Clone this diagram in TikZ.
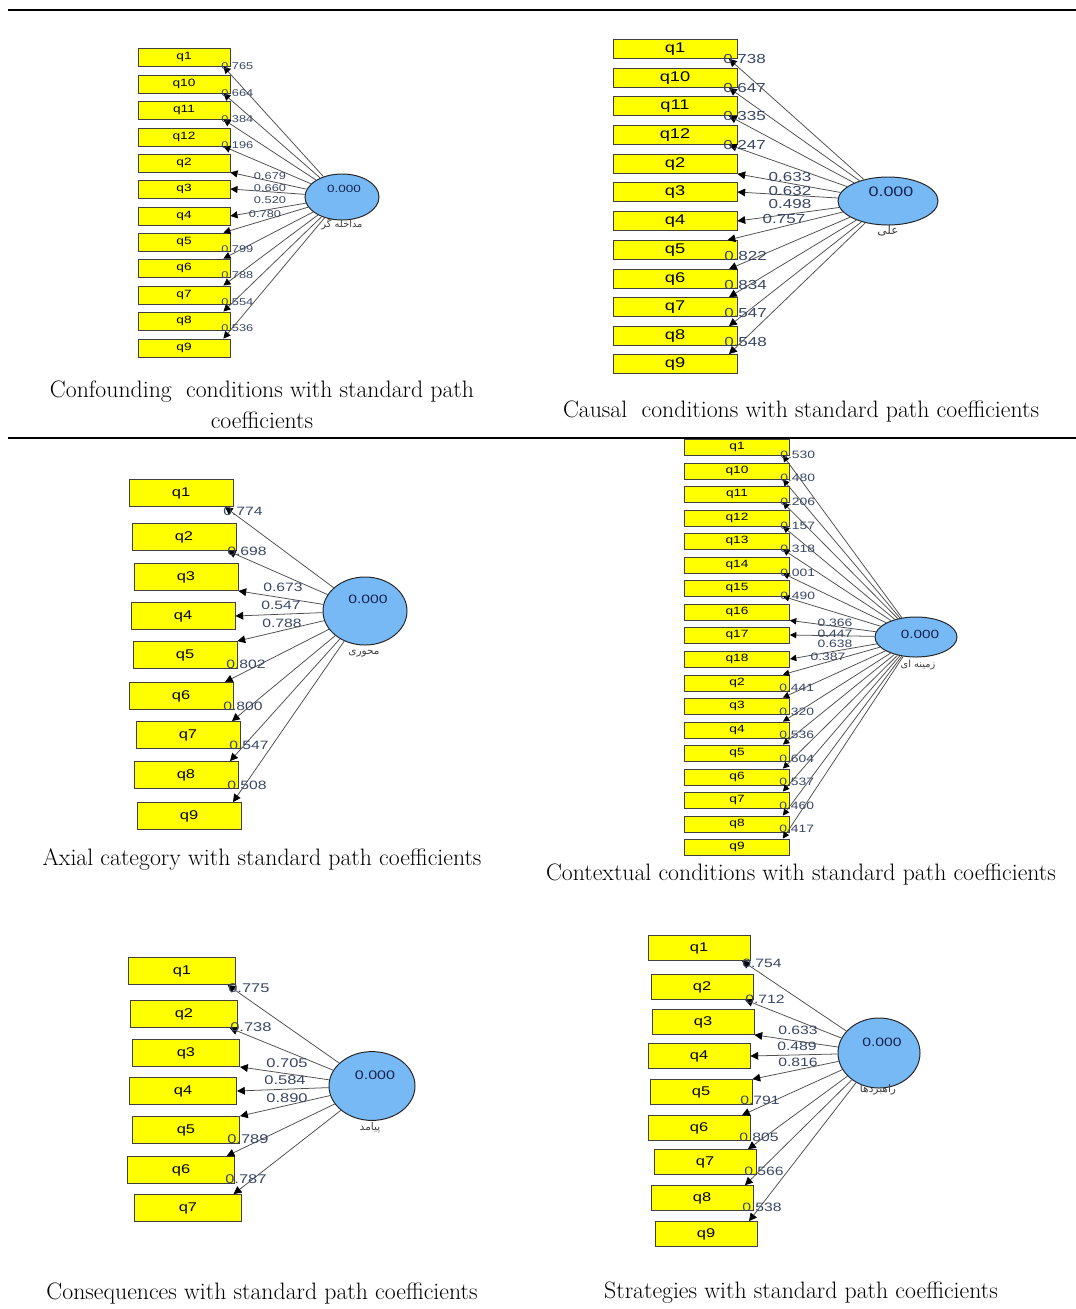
\documentclass[tikz,border=0pt]{standalone}
\usepackage{fontspec}
\usepackage{xcolor}
\usetikzlibrary{arrows.meta,shapes.geometric}

\newfontfamily\qfont[FakeStretch=1.3]{Liberation Sans}
\newfontfamily\fafont[Script=Arabic]{DejaVu Sans}
\TeXXeTstate=1

\definecolor{itemyellow}{RGB}{255,255,0}
\definecolor{lvblue}{RGB}{118,185,245}
\definecolor{coefblue}{RGB}{55,70,100}
\definecolor{lvtext}{RGB}{25,35,80}
\definecolor{edgegray}{RGB}{80,80,80}

\begin{document}
\begin{tikzpicture}[
  x=0.025cm, y=-0.025cm,
  item/.style={draw=black!75, fill=itemyellow, line width=0.6pt, inner sep=0pt},
  latent/.style={ellipse, draw=black!85, fill=lvblue, line width=0.7pt, inner sep=0pt},
  value/.style={text=lvtext, inner sep=0pt},
  coef/.style={text=coefblue, inner sep=0pt},
  fa/.style={font=\fafont\fontsize{7.5}{8}\selectfont, text=black!75, inner sep=0pt},
  load/.style={draw=edgegray, line width=0.55pt, -{Triangle[length=5.5pt, width=5.5pt, color=black]}},
  capt/.style={align=center, font=\fontsize{16.9}{22}\selectfont, inner sep=0pt}
]
\useasboundingbox (0,0) rectangle (1076,1309);

% rules
\coordinate (ruleA-l) at (8,10);
\coordinate (ruleA-r) at (1076,10);
\coordinate (ruleB-l) at (8,438);
\coordinate (ruleB-r) at (1076,438);
\draw[line width=0.9pt] (ruleA-l) -- (ruleA-r);
\draw[line width=0.9pt] (ruleB-l) -- (ruleB-r);

% Confounding conditions
\begin{scope}[item/.append style={minimum width=2.3cm, minimum height=0.45cm, font=\qfont\fontsize{7.5}{9}\selectfont},
  coef/.append style={font=\qfont\fontsize{7}{8}\selectfont},
  load/.append style={-{Triangle[length=5pt, width=5pt, color=black]}}]
\node[latent, minimum width=1.85cm, minimum height=1.15cm] (conf) at (342,197) {};
\node[value, font=\qfont\fontsize{7.4}{9}\selectfont] (conf-val) at (344,189) {0.000};
\node[fa, font=\fafont\fontsize{7}{8}\selectfont] (conf-name) at (342,224) {\beginR مداخله گر\endR};
\foreach \n/\y/\v/\lx/\ly in {q1/57/0.765/221/66, q10/84/0.664/221/93, q11/110/0.384/221/119, q12/137/0.196/221/145}{
  \node[item] (conf-\n) at (184,\y) {\n};
  \draw[load] (conf) -- ([xshift=-5pt]conf-\n.south east);
  \node[coef, anchor=west] at (\lx,\ly) {\v};
}
\foreach \n/\y/\v/\lx/\ly/\tip/\dx in {q2/163/0.679/270/176/south east/0pt, q3/189/0.660/270/188/east/0pt,
    q4/216/0.520/270/200/east/0pt, q5/242/0.780/265/214/north east/-5pt}{
  \node[item] (conf-\n) at (184,\y) {\n};
  \draw[load] (conf) -- ([xshift=\dx]conf-\n.\tip);
  \node[coef] at (\lx,\ly) {\v};
}
\foreach \n/\y/\v/\lx/\ly in {q6/268/0.799/221/249, q7/295/0.788/221/275, q8/321/0.554/221/302, q9/348/0.536/221/328}{
  \node[item] (conf-\n) at (184,\y) {\n};
  \draw[load] (conf) -- ([xshift=-5pt]conf-\n.north east);
  \node[coef, anchor=west] at (\lx,\ly) {\v};
}
\end{scope}
\node[capt] (conf-cap) at (262,405) {Confounding\ \ conditions with standard path\\coefficients};

% Causal conditions
\begin{scope}[item/.append style={minimum width=3.1cm, minimum height=0.475cm, font=\qfont\fontsize{10}{12}\selectfont},
  coef/.append style={font=\qfont\fontsize{9.3}{11}\selectfont}]
\node[latent, minimum width=2.5cm, minimum height=1.2cm] (caus) at (888,201) {};
\node[value, font=\qfont\fontsize{9.8}{12}\selectfont] (caus-val) at (891,192) {0.000};
\node[fa, font=\fafont\fontsize{8.5}{9}\selectfont] (caus-name) at (888,231) {\beginR علی\endR};
\foreach \n/\y/\v/\lx/\ly in {q1/49/0.738/723/59, q10/78/0.647/723/88, q11/106/0.335/723/116, q12/135/0.247/723/145}{
  \node[item] (caus-\n) at (675,\y) {\n};
  \draw[load] (caus) -- ([xshift=-6pt]caus-\n.south east);
  \node[coef, anchor=west] at (\lx,\ly) {\v};
}
\foreach \n/\y/\v/\lx/\ly/\tip/\dx in {q2/164/0.633/790/177/south east/0pt, q3/192/0.632/790/191/east/0pt,
    q4/221/0.498/790/204/east/0pt, q5/250/0.757/784/219/north east/-7pt}{
  \node[item] (caus-\n) at (675,\y) {\n};
  \draw[load] (caus) -- ([xshift=\dx]caus-\n.\tip);
  \node[coef] at (\lx,\ly) {\v};
}
\foreach \n/\y/\v/\lx/\ly in {q6/279/0.822/724/256, q7/307/0.834/724/285, q8/336/0.547/724/313, q9/364/0.548/724/342}{
  \node[item] (caus-\n) at (675,\y) {\n};
  \draw[load] (caus) -- ([xshift=-6pt]caus-\n.north east);
  \node[coef, anchor=west] at (\lx,\ly) {\v};
}
\end{scope}
\node[capt] (caus-cap) at (801,411) {Causal\ \ conditions with standard path coefficients};

% Axial category
\begin{scope}[item/.append style={minimum width=2.6cm, minimum height=0.675cm, font=\qfont\fontsize{9}{11}\selectfont},
  coef/.append style={font=\qfont\fontsize{8.6}{10}\selectfont}]
\node[latent, minimum width=2.1cm, minimum height=1.7cm] (axial) at (365,611) {};
\node[value, font=\qfont\fontsize{8.6}{10}\selectfont] (axial-val) at (368,599) {0.000};
\node[fa] (axial-name) at (364,654) {\beginR محوری\endR};
\foreach \n/\x/\y/\v/\lx/\ly in {q1/181/493/0.774/223/511, q2/184/537/0.698/227/551}{
  \node[item] (axial-\n) at (\x,\y) {\n};
  \draw[load] (axial) -- ([xshift=-6pt]axial-\n.south east);
  \node[coef, anchor=west] at (\lx,\ly) {\v};
}
\foreach \n/\x/\y/\v/\lx/\ly/\tip/\dx in {q3/186/577/0.673/283/587/south east/0pt,
    q4/183/616/0.547/281/605/east/0pt, q5/185/655/0.788/282/623/north east/0pt}{
  \node[item] (axial-\n) at (\x,\y) {\n};
  \draw[load] (axial) -- ([xshift=\dx]axial-\n.\tip);
  \node[coef] at (\lx,\ly) {\v};
}
\foreach \n/\x/\y/\v/\lx/\ly in {q6/181/696/0.802/226/664, q7/188/735/0.800/223/706,
    q8/186/775/0.547/229/745, q9/189/816/0.508/227/785}{
  \node[item] (axial-\n) at (\x,\y) {\n};
  \draw[load] (axial) -- ([xshift=-6pt]axial-\n.north east);
  \node[coef, anchor=west] at (\lx,\ly) {\v};
}
\end{scope}
\node[capt] (axial-cap) at (262,860) {Axial category with standard path coefficients};

% Contextual conditions
\begin{scope}[item/.append style={minimum width=2.625cm, minimum height=0.4cm, font=\qfont\fontsize{7.5}{9}\selectfont},
  coef/.append style={font=\qfont\fontsize{7.6}{9}\selectfont},
  load/.append style={-{Triangle[length=4.5pt, width=4.5pt, color=black]}}]
\node[latent, minimum width=2.05cm, minimum height=1.0cm] (ctx) at (916,637) {};
\node[value, font=\qfont\fontsize{8.4}{10}\selectfont] (ctx-val) at (920,634) {0.000};
\node[fa, font=\fafont\fontsize{7}{8}\selectfont] (ctx-name) at (918,665) {\beginR زمینه ای\endR};
\foreach \n/\y/\v/\ly in {q1/447/0.530/455, q10/471/0.480/478, q11/494/0.206/502, q12/518/0.157/526,
    q13/541/0.318/549, q14/565/0.001/573, q15/588/0.490/596}{
  \node[item] (ctx-\n) at (737,\y) {\n};
  \draw[load] (ctx) -- ([xshift=-5pt]ctx-\n.south east);
  \node[coef, anchor=west] at (780,\ly) {\v};
}
\foreach \n/\y/\v/\lx/\ly/\tip/\dx in {q16/612/0.366/835/623/south east/0pt, q17/635/0.447/835/634/east/0pt,
    q18/659/0.638/835/644/east/0pt, q2/683/0.387/828/657/north east/-5pt}{
  \node[item] (ctx-\n) at (737,\y) {\n};
  \draw[load] (ctx) -- ([xshift=\dx]ctx-\n.\tip);
  \node[coef] at (\lx,\ly) {\v};
}
\foreach \n/\y/\v/\ly in {q3/706/0.441/688, q4/730/0.320/712, q5/753/0.536/735, q6/777/0.604/759,
    q7/800/0.537/782, q8/824/0.460/806, q9/847/0.417/829}{
  \node[item] (ctx-\n) at (737,\y) {\n};
  \draw[load] (ctx) -- ([xshift=-5pt]ctx-\n.north east);
  \node[coef, anchor=west] at (779,\ly) {\v};
}
\end{scope}
\node[capt] (ctx-cap) at (801,874) {Contextual conditions with standard path coefficients};

% Consequences
\begin{scope}[item/.append style={minimum width=2.68cm, minimum height=0.675cm, font=\qfont\fontsize{9}{11}\selectfont},
  coef/.append style={font=\qfont\fontsize{9}{11}\selectfont}]
\node[latent, minimum width=2.15cm, minimum height=1.72cm] (cons) at (372,1086) {};
\node[value, font=\qfont\fontsize{8.8}{10}\selectfont] (cons-val) at (375,1075) {0.000};
\node[fa] (cons-name) at (370,1128) {\beginR پیامد\endR};
\foreach \n/\x/\y/\v/\lx/\ly in {q1/182/971/0.775/228/988, q2/184/1014/0.738/230/1027}{
  \node[item] (cons-\n) at (\x,\y) {\n};
  \draw[load] (cons) -- ([xshift=-6pt]cons-\n.south east);
  \node[coef, anchor=west] at (\lx,\ly) {\v};
}
\foreach \n/\x/\y/\v/\lx/\ly/\tip/\dx in {q3/186/1053/0.705/287/1063/south east/0pt,
    q4/183/1091/0.584/285/1080/east/0pt, q5/186/1130/0.890/287/1098/north east/0pt}{
  \node[item] (cons-\n) at (\x,\y) {\n};
  \draw[load] (cons) -- ([xshift=\dx]cons-\n.\tip);
  \node[coef] at (\lx,\ly) {\v};
}
\foreach \n/\x/\y/\v/\lx/\ly in {q6/181/1170/0.789/227/1139, q7/188/1208/0.787/225/1179}{
  \node[item] (cons-\n) at (\x,\y) {\n};
  \draw[load] (cons) -- ([xshift=-6pt]cons-\n.north east);
  \node[coef, anchor=west] at (\lx,\ly) {\v};
}
\end{scope}
\node[capt] (cons-cap) at (262,1293) {Consequences with standard path coefficients};

% Strategies
\begin{scope}[item/.append style={minimum width=2.55cm, minimum height=0.62cm, font=\qfont\fontsize{9}{11}\selectfont},
  coef/.append style={font=\qfont\fontsize{8.6}{10}\selectfont}]
\node[latent, minimum width=2.05cm, minimum height=1.75cm] (strat) at (879,1053) {};
\node[value, font=\qfont\fontsize{8.6}{10}\selectfont] (strat-val) at (882,1042) {0.000};
\node[fa] (strat-name) at (878,1090) {\beginR راهبردها\endR};
\foreach \n/\x/\y/\v/\lx/\ly in {q1/699/948/0.754/742/963, q2/702/987/0.712/745/999}{
  \node[item] (strat-\n) at (\x,\y) {\n};
  \draw[load] (strat) -- ([xshift=-6pt]strat-\n.south east);
  \node[coef, anchor=west] at (\lx,\ly) {\v};
}
\foreach \n/\x/\y/\v/\lx/\ly/\tip/\dx in {q3/703/1022/0.633/798/1030/south east/0pt,
    q4/699/1056/0.489/797/1046/east/0pt, q5/701/1092/0.816/798/1062/north east/0pt}{
  \node[item] (strat-\n) at (\x,\y) {\n};
  \draw[load] (strat) -- ([xshift=\dx]strat-\n.\tip);
  \node[coef] at (\lx,\ly) {\v};
}
\foreach \n/\x/\y/\v/\lx/\ly in {q6/699/1128/0.791/740/1100, q7/705/1162/0.805/739/1137,
    q8/702/1198/0.566/744/1171, q9/706/1234/0.538/742/1207}{
  \node[item] (strat-\n) at (\x,\y) {\n};
  \draw[load] (strat) -- ([xshift=-6pt]strat-\n.north east);
  \node[coef, anchor=west] at (\lx,\ly) {\v};
}
\end{scope}
\node[capt] (strat-cap) at (801,1293) {Strategies with standard path coefficients};

\end{tikzpicture}
\end{document}
